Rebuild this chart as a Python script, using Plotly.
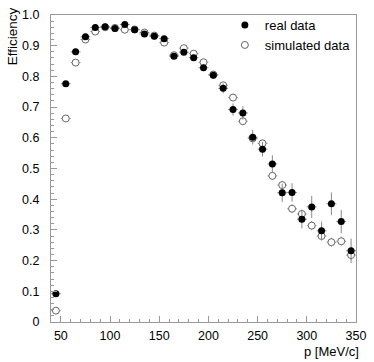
import plotly.graph_objects as go

# momentum bins (bin centres, MeV/c)
p_bins = [45, 55, 65, 75, 85, 95, 105, 115, 125, 135, 145, 155, 165, 175, 185,
          195, 205, 215, 225, 235, 245, 255, 265, 275, 285, 295, 305, 315, 325, 335, 345]
bin_half_width = [5] * len(p_bins)

# efficiencies
eff_real = [0.092, 0.776, 0.880, 0.929, 0.959, 0.962, 0.956, 0.969, 0.952, 0.938, 0.931,
            0.923, 0.866, 0.879, 0.861, 0.828, 0.804, 0.761, 0.692, 0.681, 0.602, 0.563,
            0.515, 0.421, 0.422, 0.335, 0.375, 0.297, 0.385, 0.327, 0.232]
err_real = [0.004, 0.006, 0.006, 0.005, 0.005, 0.005, 0.005, 0.005, 0.005, 0.006, 0.006,
            0.007, 0.008, 0.009, 0.010, 0.011, 0.012, 0.016, 0.020, 0.022, 0.024, 0.024,
            0.028, 0.030, 0.030, 0.030, 0.036, 0.030, 0.037, 0.038, 0.040]

eff_sim = [0.037, 0.663, 0.845, 0.920, 0.946, 0.960, 0.958, 0.952, 0.953, 0.943, 0.933,
           0.910, 0.869, 0.892, 0.874, 0.846, 0.806, 0.771, 0.731, 0.654, 0.598, 0.582,
           0.476, 0.446, 0.369, 0.352, 0.314, 0.280, 0.260, 0.263, 0.218]
err_sim = [0.003, 0.004, 0.004, 0.003, 0.003, 0.003, 0.003, 0.003, 0.003, 0.003, 0.004,
           0.004, 0.005, 0.005, 0.006, 0.006, 0.007, 0.008, 0.010, 0.010, 0.011, 0.012,
           0.013, 0.014, 0.014, 0.014, 0.015, 0.015, 0.015, 0.015, 0.016]

y_ticks = [0, 0.1, 0.2, 0.3, 0.4, 0.5, 0.6, 0.7, 0.8, 0.9, 1.0]
y_tick_labels = ["0", "0.1", "0.2", "0.3", "0.4", "0.5", "0.6", "0.7", "0.8", "0.9", "1.0"]
x_ticks = [50, 100, 150, 200, 250, 300, 350]

font = "Liberation Sans, Arial, sans-serif"

fig = go.Figure()

# simulated first so the real points sit on top
fig.add_trace(go.Scatter(
    x=p_bins, y=eff_sim, mode="markers", name="simulated data",
    error_y=dict(type="data", array=err_sim, color="#999", thickness=1, width=0),
    error_x=dict(type="data", array=bin_half_width, color="#999", thickness=1, width=0),
    marker=dict(symbol="circle", size=7, color="white", line=dict(color="#666", width=1)),
))
fig.add_trace(go.Scatter(
    x=p_bins, y=eff_real, mode="markers", name="real data",
    error_y=dict(type="data", array=err_real, color="#888", thickness=1, width=0),
    error_x=dict(type="data", array=bin_half_width, color="#888", thickness=1, width=0),
    marker=dict(symbol="circle", size=7, color="black"),
))

axis_common = dict(
    showgrid=False, zeroline=False, showline=True, linecolor="#999", linewidth=1,
    mirror=True, ticks="inside", tickcolor="#999", ticklen=6,
    ticklabeloverflow="allow",
    tickfont=dict(family=font, size=12.5, color="black"),
)
fig.update_xaxes(range=[40, 350], tickvals=x_ticks, ticklabelstandoff=2,
                 minor=dict(dtick=10, ticks="inside", ticklen=3, tickcolor="#999"),
                 **axis_common)
fig.update_yaxes(range=[0, 1.0], tickvals=y_ticks, ticktext=y_tick_labels,
                 ticklabelstandoff=8,
                 minor=dict(dtick=0.02, ticks="inside", ticklen=3, tickcolor="#999"),
                 **axis_common)

fig.add_annotation(text="Efficiency", textangle=-90, xref="paper", yref="paper",
                   x=-0.126, y=1.03, xanchor="center", yanchor="top", showarrow=False,
                   font=dict(family=font, size=13.5, color="black"))
fig.add_annotation(text="p [MeV/c]", xref="paper", yref="paper",
                   x=1.017, y=-0.095, xanchor="right", yanchor="middle", showarrow=False,
                   font=dict(family=font, size=13, color="black"))

fig.update_layout(
    width=374, height=362,
    margin=dict(l=51, r=9, t=8, b=40),
    plot_bgcolor="white", paper_bgcolor="white",
    legend=dict(x=0.57, y=1.016, xanchor="left", yanchor="top", traceorder="reversed",
                font=dict(family=font, size=13, color="black"),
                bgcolor="rgba(0,0,0,0)", itemsizing="trace", tracegroupgap=0),
)

# the page's default body margin would push the figure 8px off
fig.write_html("out.html", config={"displayModeBar": False},
               post_script="document.body.style.margin = '0';")
